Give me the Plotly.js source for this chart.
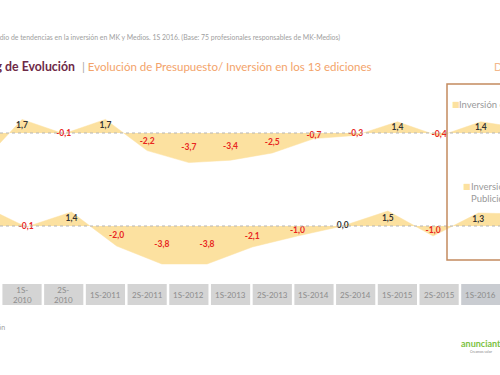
<!DOCTYPE html>
<html><head><meta charset="utf-8">
<script src="https://cdn.plot.ly/plotly-3.0.1.min.js"></script>
<style>html,body{margin:0;padding:0;background:#fff}#chart{width:500px;height:375px}</style>
</head><body><div id="chart"></div>
<script>
// ---- data ----
const categories = ["2S-2009","1S-2010","2S-2010","1S-2011","2S-2011","1S-2012","1S-2013","2S-2013","1S-2014","2S-2014","1S-2015","2S-2015","1S-2016","2S-2016"];
const tickLabels = ["2S-<br>2009","1S-<br>2010","2S-<br>2010","1S-2011","2S-2011","1S-2012","1S-2013","2S-2013","1S-2014","2S-2014","1S-2015","2S-2015","1S-2016"];
const inversionMK  = [-3.9, 1.7, -0.1, 1.7, -2.2, -3.7, -3.4, -2.5, -0.7, -0.3, 1.4, -0.4, 1.4, 0.6];
const inversionPub = [2.1, -0.1, 1.4, -2.0, -3.8, -3.8, -2.1, -1.0, 0.0, 1.5, -1.0, 1.3, 1.2];
const seriesNames = ["Inversión en Marketing", "Inversión en<br>Publicidad"];

// ---- helpers (layout only) ----
const W = 500, H = 375;
const px = x => x / W;
const py = y => 1 - y / H;
const fmt = v => v.toFixed(1).replace('.', ',');
const fillCol = '#fce1a0';
const labelFont = 'Lato, "Open Sans", sans-serif';

function areaTrace(xs, ys, xa, ya) {
  return {x: xs, y: ys, xaxis: xa, yaxis: ya, type: 'scatter', mode: 'lines',
    fill: 'tozeroy', fillcolor: fillCol, line: {color: fillCol, width: 0.5}, hoverinfo: 'skip'};
}
function labelTrace(xs, ys, xa, ya) {
  return {x: xs, y: ys.map(v => v / 2), xaxis: xa, yaxis: ya, type: 'scatter', mode: 'text',
    text: ys.map(fmt), textposition: 'middle center', cliponaxis: false, hoverinfo: 'skip',
    textfont: {family: labelFont, size: 8.5, weight: 'bold',
      color: ys.map(v => v < 0 ? '#e8261e' : '#333333')}};
}

const catsPub = categories.slice(0, inversionPub.length);
const traces = [
  areaTrace(categories, inversionMK, 'x', 'y'),
  areaTrace(catsPub, inversionPub, 'x2', 'y2'),
  labelTrace(categories, inversionMK, 'x', 'y'),
  labelTrace(catsPub, inversionPub, 'x2', 'y2')
];

// category boxes along the bottom
const shapes = [];
const annotations = [];
tickLabels.forEach((t, i) => {
  const last = i === tickLabels.length - 1;
  shapes.push({type: 'rect', xref: 'x', yref: 'paper', x0: i - 0.47, x1: i + 0.47,
    y0: py(305), y1: py(284), fillcolor: last ? '#c9ccd1' : '#d4d4d4', line: {width: 0}, layer: 'below'});
  annotations.push({xref: 'x', yref: 'paper', x: categories[i], y: py(294.5), yanchor: 'middle',
    text: t, showarrow: false, font: {family: 'Lato, sans-serif', size: 8, color: '#8c8c8c'}});
});

// zero baselines (dotted)
shapes.push({type: 'line', xref: 'paper', yref: 'y', x0: 0, x1: 1, y0: 0, y1: 0,
  line: {color: '#b5b5b5', width: 1, dash: 'dot'}});
shapes.push({type: 'line', xref: 'paper', yref: 'y2', x0: 0, x1: 1, y0: 0, y1: 0,
  line: {color: '#b5b5b5', width: 1, dash: 'dot'}});

// legend frame
shapes.push({type: 'rect', xref: 'paper', yref: 'paper', x0: px(447), x1: px(520),
  y0: py(260), y1: py(84), line: {color: '#c38b5f', width: 1.5}, fillcolor: 'rgba(0,0,0,0)'});

const A = (o) => Object.assign({xref: 'paper', yref: 'paper', showarrow: false}, o);
annotations.push(
  A({x: px(342), y: py(37), xanchor: 'right', yanchor: 'middle',
     text: 'Fuente: Estudio de tendencias en la inversión en MK y Medios. 1S 2016. (Base: 75 profesionales responsables de MK-Medios)',
     font: {family: 'Lato, sans-serif', size: 6.9, color: '#a0a0a0'}}),
  A({x: px(77), y: py(67), xanchor: 'right', yanchor: 'middle',
     text: '<b>Ranking de Evolución</b>',
     font: {family: 'Lato, sans-serif', size: 12.3, color: '#6e2a47'}}),
  A({x: px(80), y: py(67), xanchor: 'left', yanchor: 'middle',
     text: '<span style="color:#a8a8a8">|</span> Evolución de Presupuesto/ Inversión en los 13 ediciones',
     font: {family: 'Lato, sans-serif', size: 11.5, color: '#f3a36a'}}),
  A({x: px(492), y: py(67), xanchor: 'left', yanchor: 'middle',
     text: 'Datos', font: {family: 'Lato, sans-serif', size: 11, color: '#f3b88c'}}),
  A({x: px(450), y: py(104), xanchor: 'left', yanchor: 'middle',
     text: '■', font: {family: 'DejaVu Sans', size: 8, color: fillCol}}),
  A({x: px(457), y: py(104), xanchor: 'left', yanchor: 'middle',
     text: seriesNames[0], font: {family: 'Lato, sans-serif', size: 9.5, color: '#9a9a9a'}}),
  A({x: px(461), y: py(187), xanchor: 'left', yanchor: 'middle',
     text: '■', font: {family: 'DejaVu Sans', size: 8, color: fillCol}}),
  A({x: px(469), y: py(192), xanchor: 'left', yanchor: 'middle', align: 'left',
     text: seriesNames[1], font: {family: 'Lato, sans-serif', size: 9.5, color: '#9a9a9a'}}),
  A({x: px(7), y: py(327), xanchor: 'right', yanchor: 'middle',
     text: 'Inversión', font: {family: 'Lato, sans-serif', size: 7, color: '#a0a0a0'}}),
  A({x: px(459), y: py(343), xanchor: 'left', yanchor: 'middle',
     text: '<b>anunciantes</b>', font: {family: 'Lato, sans-serif', size: 9, color: '#7cc242'}}),
  A({x: px(468), y: py(352), xanchor: 'left', yanchor: 'middle',
     text: 'Creamos valor', font: {family: 'Lato, sans-serif', size: 3.5, color: '#8a8a8a'}})
);

const axBase = {type: 'category', categoryorder: 'array', categoryarray: categories,
  visible: false, fixedrange: true};
const layout = {
  width: W, height: H, margin: {l: 0, r: 0, t: 0, b: 0},
  paper_bgcolor: '#ffffff', plot_bgcolor: 'rgba(0,0,0,0)', showlegend: false,
  xaxis: Object.assign({}, axBase, {domain: [0, 1], range: [0.472, 12.46], anchor: 'y'}),
  yaxis: {domain: [py(175), py(100)], range: [-5.25, 4.125], visible: false, fixedrange: true, anchor: 'x'},
  xaxis2: Object.assign({}, axBase, {domain: [0, 1], range: [0.42, 11.48], anchor: 'y2'}),
  yaxis2: {domain: [py(275), py(190)], range: [-4.9, 3.6], visible: false, fixedrange: true, anchor: 'x2'},
  shapes: shapes, annotations: annotations
};
Plotly.newPlot('chart', traces, layout, {displayModeBar: false, staticPlot: true});
</script></body></html>
